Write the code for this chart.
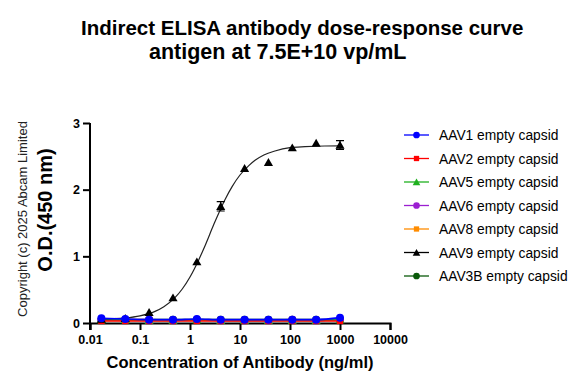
<!DOCTYPE html>
<html>
<head>
<meta charset="utf-8">
<script src="https://cdn.jsdelivr.net/npm/d3@7"></script>
<style>
  body { margin: 0; background: #fff; }
  text { font-family: "Liberation Sans", Arial, sans-serif; }
</style>
</head>
<body>
<div id="chart"></div>
<script>
const width = 583;
const height = 388;

// concentrations (ng/ml), 3-fold dilution from 1000
const concentrations = [0.0169, 0.0508, 0.152, 0.457, 1.372, 4.115, 12.35, 37.04, 111.1, 333.3, 1000];

const seriesNames = [
  "AAV1 empty capsid",
  "AAV2 empty capsid",
  "AAV5 empty capsid",
  "AAV6 empty capsid",
  "AAV8 empty capsid",
  "AAV9 empty capsid",
  "AAV3B empty capsid",
];
const seriesColors = ["#0000ff", "#ff0000", "#1fb01f", "#9b1fd1", "#ff8c00", "#000000", "#0a5a0a"];
const seriesShapes = ["circle", "square", "triangle", "circle", "square", "triangle", "circle"];

const aav1 = [0.07, 0.06, 0.05, 0.05, 0.06, 0.05, 0.05, 0.05, 0.05, 0.05, 0.08];
const aav2 = [0.03, 0.03, 0.03, 0.03, 0.03, 0.03, 0.03, 0.03, 0.03, 0.03, 0.03];
const aav5 = [0.05, 0.05, 0.04, 0.04, 0.05, 0.04, 0.04, 0.04, 0.04, 0.04, 0.05];
const aav6 = [0.05, 0.05, 0.05, 0.04, 0.05, 0.04, 0.04, 0.04, 0.05, 0.04, 0.05];
const aav8 = [0.04, 0.04, 0.04, 0.04, 0.04, 0.04, 0.04, 0.04, 0.04, 0.04, 0.04];
const aav9 = [0.06, 0.07, 0.16, 0.38, 0.92, 1.75, 2.32, 2.41, 2.63, 2.70, 2.67];
const aav9Err = [0, 0, 0.02, 0.02, 0.03, 0.07, 0.02, 0.02, 0.02, 0.02, 0.065];
const aav3b = [0.05, 0.05, 0.05, 0.05, 0.05, 0.05, 0.05, 0.05, 0.05, 0.05, 0.05];
const seriesValues = [aav1, aav2, aav5, aav6, aav8, aav9, aav3b];

// fitted curve for AAV9
const fitConc = [0.0169, 0.03, 0.05, 0.1, 0.2, 0.3, 0.5, 0.7, 1, 1.5, 2, 3, 5, 7, 10, 15, 20, 30, 50, 100, 200, 500, 1000];
const fitOD = [0.06, 0.065, 0.076, 0.108, 0.175, 0.245, 0.38, 0.51, 0.69, 0.95, 1.16, 1.48, 1.85, 2.05, 2.22, 2.36, 2.44, 2.52, 2.58, 2.63, 2.645, 2.655, 2.656];

const xTickValues = [0.01, 0.1, 1, 10, 100, 1000, 10000];
const xTickLabels = ["0.01", "0.1", "1", "10", "100", "1000", "10000"];
const yTickValues = [0, 1, 2, 3];

const margin = { left: 90, right: 193, top: 123, bottom: 65 };

const svg = d3
  .select("#chart")
  .append("svg")
  .attr("width", width)
  .attr("height", height);

const xScale = d3
  .scaleLog()
  .domain([0.01, 10000])
  .range([margin.left, width - margin.right]);

const yScale = d3
  .scaleLinear()
  .domain([0, 3])
  .range([height - margin.bottom, margin.top]);

// title
svg
  .append("text")
  .attr("x", 81)
  .attr("y", 35)
  .attr("font-size", 20.5)
  .attr("font-weight", "bold")
  .text("Indirect ELISA antibody dose-response curve");
svg
  .append("text")
  .attr("x", 149)
  .attr("y", 59)
  .attr("font-size", 21.5)
  .attr("font-weight", "bold")
  .text("antigen at 7.5E+10 vp/mL");

// axes
const xAxis = d3
  .axisBottom(xScale)
  .tickValues(xTickValues)
  .tickFormat((d, i) => xTickLabels[i])
  .tickSizeOuter(0)
  .tickSize(7)
  .tickPadding(5);

svg
  .append("g")
  .attr("transform", `translate(0, ${yScale(0)})`)
  .call(xAxis)
  .call((g) => {
    g.select(".domain").attr("stroke", "#000").attr("stroke-width", 2);
    g.selectAll("line").attr("stroke", "#000").attr("stroke-width", 2);
    g.selectAll("text")
      .attr("font-size", 12.5)
      .attr("font-weight", "bold")
      .attr("font-family", "Liberation Sans, Arial, sans-serif")
      .attr("fill", "#000");
  });

const yAxis = d3
  .axisLeft(yScale)
  .tickValues(yTickValues)
  .tickFormat(d3.format("d"))
  .tickSizeOuter(0)
  .tickSize(7)
  .tickPadding(3);

svg
  .append("g")
  .attr("transform", `translate(${margin.left}, 0)`)
  .call(yAxis)
  .call((g) => {
    g.select(".domain").attr("stroke", "#000").attr("stroke-width", 2)
      .attr("d", `M0,${yScale(3)}V${yScale(0) + 7}`);
    g.selectAll("line").attr("stroke", "#000").attr("stroke-width", 2);
    g.selectAll("text")
      .attr("font-size", 12.5)
      .attr("font-weight", "bold")
      .attr("font-family", "Liberation Sans, Arial, sans-serif")
      .attr("fill", "#000");
  });

// axis titles
svg
  .append("text")
  .attr("x", 240)
  .attr("y", 368)
  .attr("text-anchor", "middle")
  .attr("font-size", 16.5)
  .attr("font-weight", "bold")
  .text("Concentration of Antibody (ng/ml)");

svg
  .append("text")
  .attr("transform", "translate(52, 210) rotate(-90)")
  .attr("text-anchor", "middle")
  .attr("font-size", 20)
  .attr("font-weight", "bold")
  .text("O.D.(450 nm)");

svg
  .append("text")
  .attr("transform", "translate(27, 219) rotate(-90)")
  .attr("text-anchor", "middle")
  .attr("font-size", 13)
  .attr("fill", "#222")
  .text("Copyright (c) 2025 Abcam Limited");

const symbolType = {
  circle: d3.symbolCircle,
  square: d3.symbolSquare,
  triangle: d3.symbolTriangle,
};
const symbolSize = { circle: 50, square: 40, triangle: 36 };

const line = d3
  .line()
  .x((d) => xScale(d[0]))
  .y((d) => yScale(d[1]))
  .curve(d3.curveMonotoneX);

const plot = svg.append("g");

// draw in reverse so AAV1 ends up on top
const order = [6, 4, 3, 2, 1, 5, 0];
order.forEach((si) => {
  const color = seriesColors[si];
  const shape = seriesShapes[si];
  const vals = seriesValues[si];
  const g = plot.append("g");
  if (si === 5) {
    g.append("path")
      .datum(fitConc.map((c, i) => [c, fitOD[i]]))
      .attr("fill", "none")
      .attr("stroke", "#222")
      .attr("stroke-width", 1.2)
      .attr("d", line);
    const err = concentrations.map((c, i) => ({ c, v: vals[i], e: aav9Err[i] })).filter((d) => d.e > 0.03);
    g.selectAll(".err")
      .data(err)
      .join("path")
      .attr("fill", "none")
      .attr("stroke", "#000")
      .attr("stroke-width", 1.2)
      .attr("d", (d) => {
        const x = xScale(d.c);
        const y0 = yScale(d.v - d.e);
        const y1 = yScale(d.v + d.e);
        return `M${x - 4},${y0}H${x + 4}M${x},${y0}V${y1}M${x - 4},${y1}H${x + 4}`;
      });
  } else {
    g.append("path")
      .datum(concentrations.map((c, i) => [c, vals[i]]))
      .attr("fill", "none")
      .attr("stroke", color)
      .attr("stroke-width", 1.6)
      .attr("d", line);
  }
  g.selectAll(".pt")
    .data(concentrations.map((c, i) => [c, vals[i]]))
    .join("path")
    .attr("transform", (d) => `translate(${xScale(d[0])}, ${yScale(d[1]) + (shape === "triangle" ? 1 : 0)})`)
    .attr("fill", color)
    .attr("d", d3.symbol(symbolType[shape], symbolSize[shape]));
});

// legend
const legend = svg
  .append("g")
  .selectAll("g")
  .data(seriesNames)
  .join("g")
  .attr("transform", (d, i) => `translate(0, ${135 + i * 23.5})`);

legend
  .append("line")
  .attr("x1", 404)
  .attr("x2", 429)
  .attr("stroke", (d, i) => seriesColors[i])
  .attr("stroke-width", 1.3);

legend
  .append("path")
  .attr("transform", (d, i) => `translate(416.5, ${seriesShapes[i] === "triangle" ? 1 : 0})`)
  .attr("fill", (d, i) => seriesColors[i])
  .attr("d", (d, i) => d3.symbol(symbolType[seriesShapes[i]], symbolSize[seriesShapes[i]] * 0.7)());

legend
  .append("text")
  .attr("x", 439)
  .attr("y", 5)
  .attr("font-size", 13.8)
  .attr("fill", "#000")
  .text((d) => d);
</script>
</body>
</html>
